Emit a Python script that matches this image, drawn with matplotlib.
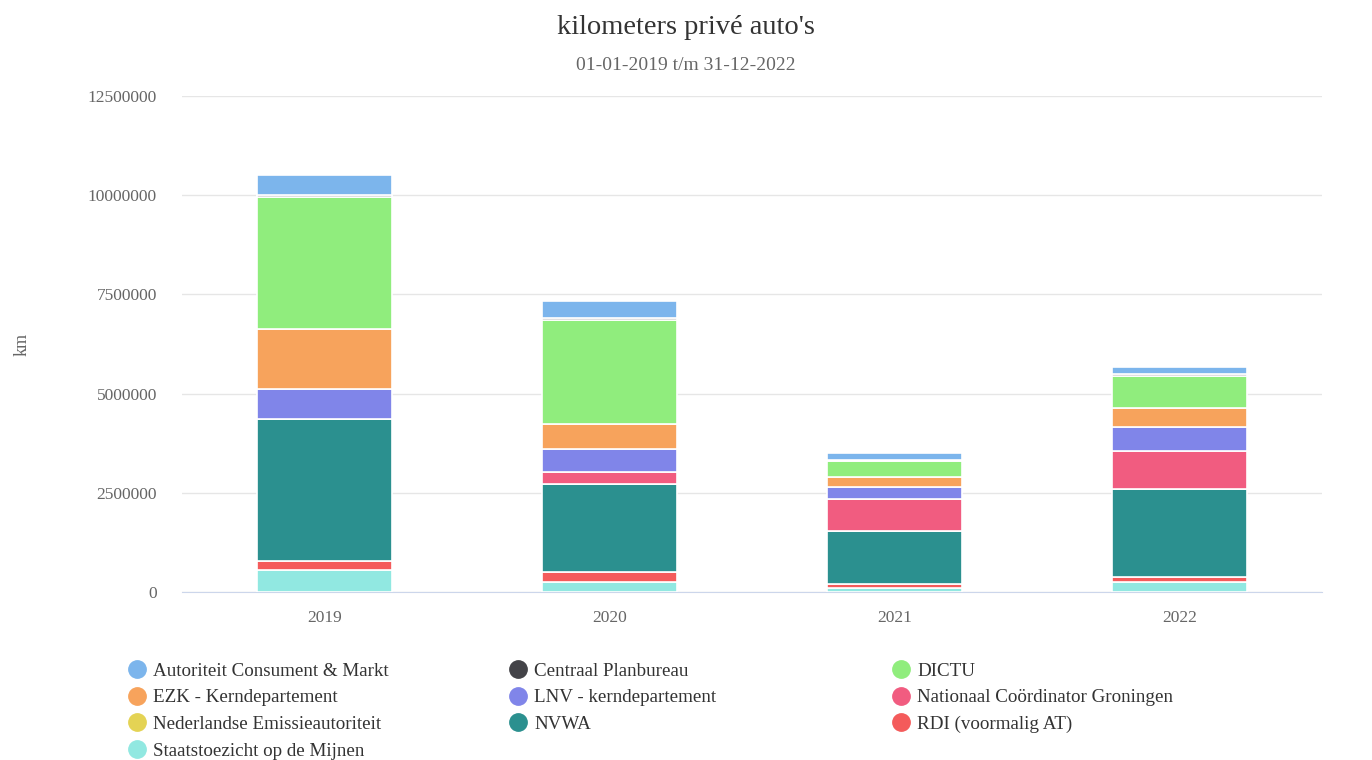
import matplotlib.pyplot as plt
from matplotlib.lines import Line2D
import numpy as np

plt.rcParams['font.family'] = ['Liberation Serif', 'DejaVu Serif']

years = ["2019", "2020", "2021", "2022"]
series = [
    "Autoriteit Consument & Markt", "Centraal Planbureau", "DICTU",
    "EZK - Kerndepartement", "LNV - kerndepartement",
    "Nationaal Coördinator Groningen", "Nederlandse Emissieautoriteit",
    "NVWA", "RDI (voormalig AT)", "Staatstoezicht op de Mijnen",
]
colors = ["#7cb5ec", "#434348", "#90ed7d", "#f7a35c", "#8085e9",
          "#f15c80", "#e4d354", "#2b908f", "#f45b5b", "#91e8e1"]

# kilometers per jaar (2019, 2020, 2021, 2022)
acm = [500000, 440000, 180000, 190000]
cpb = [50000, 50000, 30000, 40000]
dictu = [3320000, 2620000, 410000, 820000]
ezk = [1520000, 630000, 240000, 460000]
lnv = [760000, 570000, 310000, 610000]
ncg = [0, 320000, 800000, 970000]
nea = [0, 0, 0, 0]
nvwa = [3570000, 2210000, 1340000, 2200000]
rdi = [230000, 240000, 100000, 150000]
sodm = [560000, 260000, 100000, 240000]

values = [acm, cpb, dictu, ezk, lnv, ncg, nea, nvwa, rdi, sodm]

fig = plt.figure(figsize=(13.72, 7.6), dpi=100)
ax = fig.add_axes([182 / 1372, 168 / 760, 1140 / 1372, 496 / 760])

x = np.arange(len(years))
bottom = np.zeros(len(years))
# Highcharts stapelt de eerste serie bovenaan: dus van onder naar boven tekenen
for name, col, vals in reversed(list(zip(series, colors, values))):
    v = np.array(vals, dtype=float)
    ax.bar(x, v, bottom=bottom, width=0.475, color=col, edgecolor="white",
           linewidth=1.2, zorder=3)
    bottom += v

ax.set_xlim(-0.5, 3.5)
ax.set_ylim(0, 12500000)
ax.set_yticks(np.arange(0, 12500001, 2500000))
ax.set_yticklabels([str(int(t)) for t in np.arange(0, 12500001, 2500000)])
ax.set_xticks(x)
ax.set_xticklabels(years)
ax.tick_params(axis="both", length=0, labelsize=12.5, colors="#666666")
ax.tick_params(axis="y", pad=18)
ax.tick_params(axis="x", pad=13)
ax.grid(axis="y", color="#e6e6e6", linewidth=1, zorder=0)
for s in ["top", "right", "left"]:
    ax.spines[s].set_visible(False)
ax.spines["bottom"].set_color("#ccd6eb")
ax.set_ylabel("km", fontsize=13, color="#666666")
ax.yaxis.set_label_coords(-(182 - 31) / 1140, 0.5)

fig.text(0.5, 1 - 28 / 760, "kilometers privé auto's", ha="center", va="center",
         fontsize=20.5, color="#333333")
fig.text(0.5, 1 - 66 / 760, "01-01-2019 t/m 31-12-2022", ha="center", va="center",
         fontsize=14, color="#666666")

# legenda in drie kolommen, rij voor rij zoals het origineel
handles = [Line2D([], [], marker="o", linestyle="", markersize=12.5,
                  markerfacecolor=c, markeredgecolor=c) for c in colors]
col_x = [116, 497, 880]
for ci in range(3):
    idx = list(range(ci, len(series), 3))
    fig.legend([handles[i] for i in idx], [series[i] for i in idx],
               loc="upper left", bbox_to_anchor=(col_x[ci] / 1372, 1 - 653 / 760),
               frameon=False, fontsize=13.7, labelcolor="#333333",
               handletextpad=0.25, labelspacing=0.49, borderpad=0, handlelength=1.2)

fig.savefig("out.png", dpi=100)
